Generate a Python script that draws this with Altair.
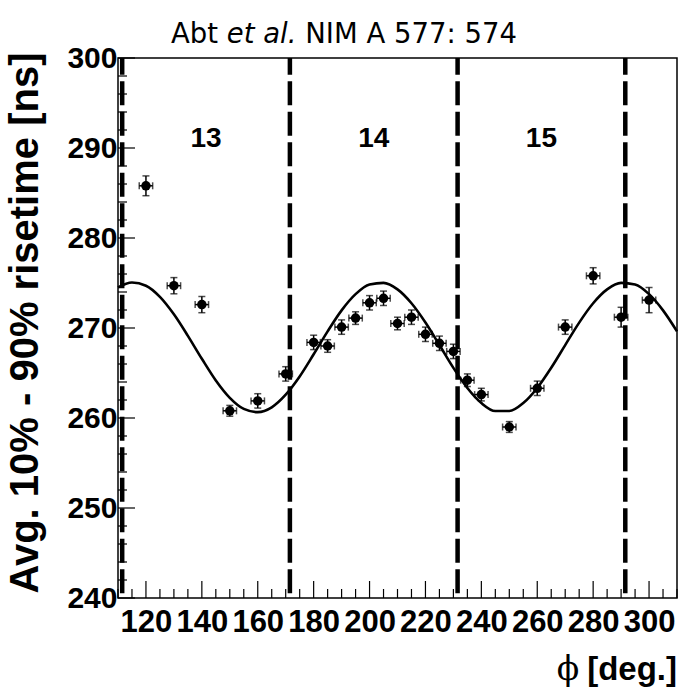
import altair as alt
import pandas as pd

# Measured rise times per azimuthal bin
phi = [120, 130, 140, 150, 160, 170, 180, 185, 190, 195, 200, 205, 210,
       215, 220, 225, 230, 235, 240, 250, 260, 270, 280, 290, 300]
risetime = [285.8, 274.7, 272.6, 260.8, 261.9, 264.9, 268.4, 268.0, 270.1,
            271.1, 272.8, 273.3, 270.5, 271.2, 269.3, 268.3, 267.4, 264.2,
            262.6, 259.0, 263.3, 270.1, 275.8, 271.2, 273.1]
risetime_err = [1.1, 0.9, 0.9, 0.6, 0.8, 0.8, 0.8, 0.7, 0.8, 0.7, 0.8, 0.8,
                0.7, 0.8, 0.8, 0.8, 0.8, 0.7, 0.7, 0.6, 0.8, 0.8, 0.9, 1.1, 1.4]
phi_err = 2.4

# Sinusoidal fit curve, sampled every 5 degrees
fit_phi = [110, 115, 120, 125, 130, 135, 140, 145, 150, 155, 160, 165, 170,
           175, 180, 185, 190, 195, 200, 205, 210, 215, 220, 225, 230, 235,
           240, 245, 250, 255, 260, 265, 270, 275, 280, 285, 290, 295, 300,
           305, 310]
fit_val = [274.5, 275.05, 274.7, 273.46, 271.52, 269.13, 266.58, 264.17,
           262.24, 261.01, 260.65, 261.19, 262.59, 264.62, 267.08, 269.63,
           271.96, 273.76, 274.83, 275.01, 274.29, 272.75, 270.61, 268.11,
           265.57, 263.33, 261.66, 260.77, 260.77, 261.66, 263.34, 265.58,
           268.10, 270.60, 272.75, 274.29, 275.01, 274.83, 273.76, 271.96,
           269.63]

# Sector boundaries and sector numbers
boundaries = [111.5, 171.5, 231.5, 291.5]
sector_phi = [141.5, 201.5, 261.5]
sector_y = [291.0, 291.0, 291.0]
sector_name = ["13", "14", "15"]

# Axis ticks
x_major = [120, 140, 160, 180, 200, 220, 240, 260, 280, 300]
x_minor = [v for v in range(110, 311, 5) if v not in x_major]
y_major = [240, 250, 260, 270, 280, 290, 300]
y_minor = [v for v in range(240, 301, 2) if v not in y_major]

W, H = 559, 540
BOLD = "Liberation Sans"

pts = pd.DataFrame({"phi": phi, "rt": risetime, "err": risetime_err})
pts["lo"] = pts["rt"] - pts["err"]
pts["hi"] = pts["rt"] + pts["err"]
pts["xlo"] = pts["phi"] - phi_err
pts["xhi"] = pts["phi"] + phi_err

fit = pd.DataFrame({"phi": fit_phi, "rt": fit_val})
bnd = pd.DataFrame({"phi": boundaries})
sec = pd.DataFrame({"phi": sector_phi, "rt": sector_y, "name": sector_name})

xs = alt.Scale(domain=[110, 310], nice=False, zero=False)
ys = alt.Scale(domain=[240, 300], nice=False, zero=False)
xaxis = alt.Axis(values=x_major, ticks=False, domain=False, grid=False,
                 tickSize=0, labelFont=BOLD, labelFontWeight="bold",
                 labelFontSize=31, labelPadding=9, labelColor="black",
                 labelOverlap=False, title=None)
yaxis = alt.Axis(values=y_major, ticks=False, domain=False, grid=False,
                 tickSize=0, labelFont=BOLD, labelFontWeight="bold",
                 labelFontSize=30, labelPadding=1, labelColor="black",
                 labelOverlap=False, title=None)


def X(f):
    return alt.X(f, type="quantitative", scale=xs, axis=xaxis)


def Y(f):
    return alt.Y(f, type="quantitative", scale=ys, axis=yaxis)


xmaj = alt.Chart(pd.DataFrame({"v": x_major})).mark_rule(
    color="black", strokeWidth=1.2).encode(
    x=X("v"), y=alt.value(H), y2=alt.value(H - 17))
xmin = alt.Chart(pd.DataFrame({"v": x_minor})).mark_rule(
    color="black", strokeWidth=1.2).encode(
    x=X("v"), y=alt.value(H), y2=alt.value(H - 9))
ymaj = alt.Chart(pd.DataFrame({"v": y_major})).mark_rule(
    color="black", strokeWidth=1.2).encode(
    y=Y("v"), x=alt.value(0), x2=alt.value(17))
ymin = alt.Chart(pd.DataFrame({"v": y_minor})).mark_rule(
    color="black", strokeWidth=1.2).encode(
    y=Y("v"), x=alt.value(0), x2=alt.value(9))

dashes = alt.Chart(bnd).mark_rule(
    color="black", strokeWidth=4.5, strokeDash=[24, 6.5],
    strokeDashOffset=7.3).encode(
    x=X("phi"), y=alt.value(0), y2=alt.value(H))

curve = alt.Chart(fit).mark_line(
    color="black", strokeWidth=2.6, interpolate="monotone").encode(
    x=X("phi"), y=Y("rt"))

vbar = alt.Chart(pts).mark_rule(color="black", strokeWidth=1.5).encode(
    x=X("phi"), y=Y("lo"), y2="hi")
hbar = alt.Chart(pts).mark_rule(color="black", strokeWidth=1.5).encode(
    x=X("xlo"), x2="xhi", y=Y("rt"))
vcap_lo = alt.Chart(pts).mark_tick(
    color="black", orient="horizontal", size=7, thickness=1.5).encode(
    x=X("phi"), y=Y("lo"))
vcap_hi = alt.Chart(pts).mark_tick(
    color="black", orient="horizontal", size=7, thickness=1.5).encode(
    x=X("phi"), y=Y("hi"))
hcap_lo = alt.Chart(pts).mark_tick(
    color="black", orient="vertical", size=7, thickness=1.5).encode(
    x=X("xlo"), y=Y("rt"))
hcap_hi = alt.Chart(pts).mark_tick(
    color="black", orient="vertical", size=7, thickness=1.5).encode(
    x=X("xhi"), y=Y("rt"))
dots = alt.Chart(pts).mark_point(
    shape="circle", filled=True, color="black", opacity=1, size=90).encode(
    x=X("phi"), y=Y("rt"))

sectors = alt.Chart(sec).mark_text(
    font=BOLD, fontWeight="bold", fontSize=28, color="black",
    baseline="middle", align="center").encode(
    x=X("phi"), y=Y("rt"), text="name:N")

# Axis titles and heading
one = pd.DataFrame({"k": [0]})
ytitle = alt.Chart(one).mark_text(
    text="Avg. 10% - 90% risetime [ns]", font=BOLD, fontWeight="bold",
    fontSize=40, angle=270, align="center", baseline="top",
    color="black").encode(x=alt.value(-112), y=alt.value(265))
xtitle = alt.Chart(one).mark_text(
    text="[deg.]", font=BOLD, fontWeight="bold", fontSize=33,
    align="right", baseline="alphabetic", color="black").encode(
    x=alt.value(W), y=alt.value(622))
xphi = alt.Chart(one).mark_text(
    text="\u03d5", font="DejaVu Serif", fontSize=33, align="center",
    baseline="alphabetic", color="black").encode(
    x=alt.value(450), y=alt.value(622))

TS = 27.5
HX = 53
head1 = alt.Chart(one).mark_text(
    text="Abt", font="DejaVu Sans", fontSize=TS, align="left",
    baseline="alphabetic", color="black").encode(
    x=alt.value(HX), y=alt.value(-15))
head2 = alt.Chart(one).mark_text(
    text="et al.", font="DejaVu Sans", fontStyle="italic", fontSize=TS,
    align="left", baseline="alphabetic", color="black").encode(
    x=alt.value(HX + 2.029 * TS), y=alt.value(-15))
head3 = alt.Chart(one).mark_text(
    text="NIM A 577: 574", font="DejaVu Sans", fontSize=TS, align="left",
    baseline="alphabetic", color="black").encode(
    x=alt.value(HX + (2.029 + 2.852) * TS), y=alt.value(-15))

chart = alt.layer(
    curve, dashes, xmaj, xmin, ymaj, ymin, vbar, hbar,
    vcap_lo, vcap_hi, hcap_lo, hcap_hi, dots, sectors,
    ytitle, xtitle, xphi, head1, head2, head3,
).properties(
    width=W, height=H,
    padding={"left": 118, "top": 58, "right": 3, "bottom": 92},
    autosize=alt.AutoSizeParams(type="none"),
    background="white",
).configure_view(stroke="black", strokeWidth=1.5)

chart.save("out.html", embed_options={"renderer": "svg", "actions": False})
